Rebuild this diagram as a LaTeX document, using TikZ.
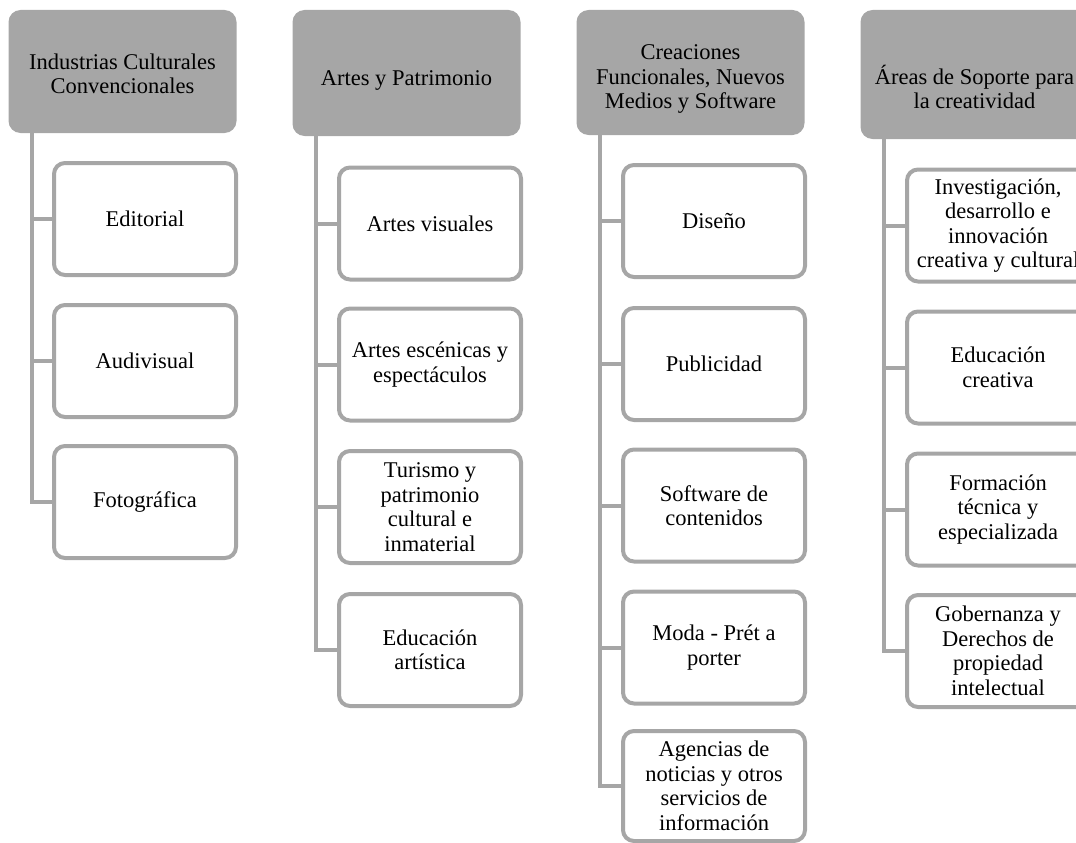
\documentclass[tikz,border=0pt]{standalone}
\usepackage{fontspec}
\setmainfont{Liberation Serif}
\definecolor{boxgray}{HTML}{A6A6A6}
\begin{document}
\begin{tikzpicture}[x=1pt,y=-1pt,
  every node/.style={font=\fontsize{22.5}{24.5}\selectfont, align=center, text=black},
  hdr/.style={rectangle, rounded corners=12pt, fill=boxgray, draw=none,
              inner sep=0pt, minimum width=228pt},
  hdrtext/.style={inner sep=0pt},
  item/.style={rectangle, rounded corners=11pt, draw=boxgray, fill=white,
               line width=4pt, inner sep=0pt, minimum width=182pt, minimum height=112pt},
  conn/.style={draw=boxgray, line width=4pt}]
\useasboundingbox (0,0) rectangle (1076,843);
\clip (0,0) rectangle (1076,843);

% ---- column headers ----
\node[hdr, minimum height=123pt] (h1) at (122.5,71.5) {};
\node[hdr, minimum height=126pt] (h2) at (406.5,73) {};
\node[hdr, minimum height=125pt] (h3) at (690.5,72.5) {};
\node[hdr, minimum height=129pt] (h4) at (974.5,74.5) {};

\node[hdrtext] (h1t) at (122.5,74) {Industrias Culturales\\Convencionales};
\node[hdrtext] (h2t) at (406.5,80) {Artes y Patrimonio};
\node[hdrtext] (h3t) at (690.5,79) {Creaciones\\Funcionales, Nuevos\\Medios y Software};
\node[hdrtext] (h4t) at (974.5,87) {Áreas de Soporte para\\la creatividad};

% ---- trunk starting points below each header ----
\coordinate (t1) at ([xshift=24pt]h1.south west);
\coordinate (t2) at ([xshift=24pt]h2.south west);
\coordinate (t3) at ([xshift=24pt]h3.south west);
\coordinate (t4) at ([xshift=24pt]h4.south west);

% ---- column 1 ----
\node[item] (a1) at (145,219) {Editorial};
\node[item] (a2) at (145,361) {Audivisual};
\node[item] (a3) at (145,502) {Fotográfica};

% ---- column 2 ----
\node[item] (b1) at (430,223.5) {Artes visuales};
\node[item] (b2) at (430,364.5) {Artes escénicas y\\espectáculos};
\node[item] (b3) at (430,507) {Turismo y\\patrimonio\\cultural e\\inmaterial};
\node[item] (b4) at (430,650) {Educación\\artística};

% ---- column 3 ----
\node[item] (c1) at (714,221) {Diseño};
\node[item] (c2) at (714,364) {Publicidad};
\node[item] (c3) at (714,505.5) {Software de\\contenidos};
\node[item] (c4) at (714,647.5) {Moda - Prét a\\porter};
\node[item, minimum height=110pt] (c5) at (714,786) {Agencias de\\noticias y otros\\servicios de\\información};

% ---- column 4 ----
\node[item] (d1) at (998,225.5) {Investigación,\\desarrollo e\\innovación\\creativa y cultural};
\node[item] (d2) at (998,367.5) {Educación\\creativa};
\node[item] (d3) at (998,509.5) {Formación\\técnica y\\especializada};
\node[item] (d4) at (998,651) {Gobernanza y\\Derechos de\\propiedad\\intelectual};

% ---- connectors ----
\foreach \c in {a1,a2,a3} \draw[conn] (t1) |- (\c.west);
\foreach \c in {b1,b2,b3,b4} \draw[conn] (t2) |- (\c.west);
\foreach \c in {c1,c2,c3,c4,c5} \draw[conn] (t3) |- (\c.west);
\foreach \c in {d1,d2,d3,d4} \draw[conn] (t4) |- (\c.west);
\end{tikzpicture}
\end{document}
